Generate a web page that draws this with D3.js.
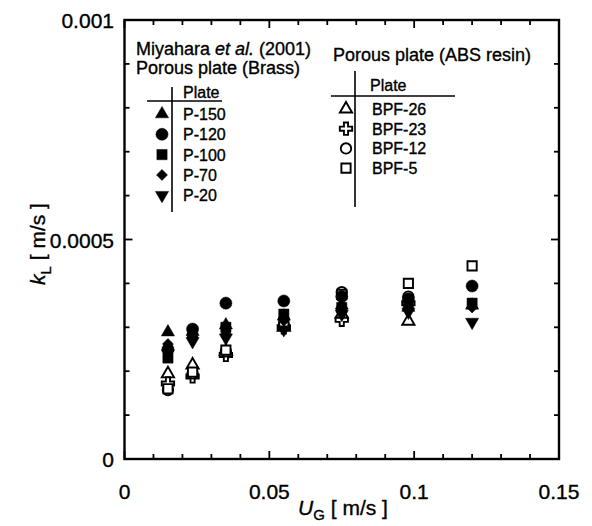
<!DOCTYPE html>
<html>
<head>
<meta charset="utf-8">
<script src="https://cdn.jsdelivr.net/npm/d3@7"></script>
<style>
  body { margin: 0; background: #fff; }
  text { font-family: "Liberation Sans", Arial, sans-serif; fill: #000; stroke: #000; stroke-width: 0.35px; }
</style>
</head>
<body>
<svg id="chart" width="592" height="526"></svg>
<script>
// gas velocity U_G [m/s]
const ug = [0.015, 0.0235, 0.035, 0.055, 0.075, 0.098, 0.12];

// Miyahara et al. (2001), brass plates, k_L [m/s]
const p150 = [0.000289, 0.000290, 0.000305, 0.000325, 0.000350, 0.000345, 0.000350];
const p120 = [0.000250, 0.000296, 0.000355, 0.000360, 0.000370, 0.000365, 0.000394];
const p100 = [0.000230, 0.000285, 0.000300, 0.000330, 0.000345, 0.000350, 0.000355];
const p70  = [0.000262, 0.000278, 0.000285, 0.000315, 0.000340, 0.000340, 0.000345];
const p20  = [0.000240, 0.000268, 0.000276, 0.000295, 0.000330, 0.000335, 0.000312];

// ABS resin plates
const bpf26 = [0.000194, 0.000214, 0.000245, 0.000300, 0.000330, 0.000314, null];
const bpf23 = [0.000172, 0.000188, 0.000237, 0.000300, 0.000317, 0.000355, null];
const bpf12 = [0.000157, 0.000195, 0.000245, 0.000305, 0.000380, 0.000370, null];
const bpf5  = [0.000160, 0.000198, 0.000248, 0.000310, 0.000375, 0.000400, 0.000440];

const xTicks = d3.range(16).map(i => i / 100);
const yTicks = d3.range(11).map(i => i / 10000);
const xLabels = [0, 0.05, 0.1, 0.15];
const yLabels = [0, 0.0005, 0.001];

const svg = d3.select('#chart');
const x = d3.scaleLinear().domain([0, 0.15]).range([124.5, 559]);
const y = d3.scaleLinear().domain([0, 0.001]).range([459, 20]);

// marker shapes
const sym = (type, size) => d3.symbol().type(type).size(size)();
const shapes = {
  up:      {d: sym(d3.symbolTriangle, 75), rot: 0},
  circle:  {d: sym(d3.symbolCircle, 115), rot: 0},
  square:  {d: sym(d3.symbolSquare, 105), rot: 0},
  diamond: {d: sym(d3.symbolSquare, 60), rot: 45},
  down:    {d: sym(d3.symbolTriangle, 75), rot: 180},
  oUp:     {d: sym(d3.symbolTriangle, 65), rot: 0},
  oCross:  {d: sym(d3.symbolCross, 85), rot: 0},
  oCircle: {d: sym(d3.symbolCircle, 85), rot: 0},
  oSquare: {d: sym(d3.symbolSquare, 85), rot: 0}
};

const brass = [
  {name: 'P-150', vals: p150, shape: 'up'},
  {name: 'P-120', vals: p120, shape: 'circle'},
  {name: 'P-100', vals: p100, shape: 'square'},
  {name: 'P-70',  vals: p70,  shape: 'diamond'},
  {name: 'P-20',  vals: p20,  shape: 'down'}
];
const abs = [
  {name: 'BPF-26', vals: bpf26, shape: 'oUp'},
  {name: 'BPF-23', vals: bpf23, shape: 'oCross'},
  {name: 'BPF-12', vals: bpf12, shape: 'oCircle'},
  {name: 'BPF-5',  vals: bpf5,  shape: 'oSquare'}
];

function marker(g, shape, open, cx, cy) {
  const s = shapes[shape];
  g.append('path')
    .attr('d', s.d)
    .attr('transform', `translate(${cx},${cy}) rotate(${s.rot})`)
    .attr('fill', open ? '#fff' : '#000')
    .attr('stroke', '#000')
    .attr('stroke-width', open ? 1.9 : 0.5);
}

// frame + ticks
svg.append('rect')
  .attr('x', x(0)).attr('y', y(0.001))
  .attr('width', x(0.15) - x(0)).attr('height', y(0) - y(0.001))
  .attr('fill', 'none').attr('stroke', '#000').attr('stroke-width', 2.4);

const ticks = svg.append('g').attr('stroke', '#000').attr('stroke-width', 1.8);
xTicks.forEach((v, i) => {
  const len = i % 5 === 0 ? 8 : 5;
  ticks.append('line').attr('x1', x(v)).attr('x2', x(v)).attr('y1', y(0)).attr('y2', y(0) - len);
  ticks.append('line').attr('x1', x(v)).attr('x2', x(v)).attr('y1', y(0.001)).attr('y2', y(0.001) + len);
});
yTicks.forEach((v, i) => {
  const len = i % 5 === 0 ? 8 : 5;
  ticks.append('line').attr('y1', y(v)).attr('y2', y(v)).attr('x1', x(0)).attr('x2', x(0) + len);
  ticks.append('line').attr('y1', y(v)).attr('y2', y(v)).attr('x1', x(0.15)).attr('x2', x(0.15) - len);
});

svg.append('g').selectAll('text').data(xLabels).join('text')
  .attr('x', d => x(d)).attr('y', 499)
  .attr('text-anchor', 'middle').style('font-size', '21px')
  .text(d => d);
svg.append('g').selectAll('text').data(yLabels).join('text')
  .attr('x', 114).attr('y', d => y(d) + 8)
  .attr('text-anchor', 'end').style('font-size', '21px')
  .text(d => d);

// axis titles
const xt = svg.append('text').attr('x', 343).attr('y', 515).attr('text-anchor', 'middle').style('font-size', '21px');
xt.append('tspan').style('font-style', 'italic').text('U');
xt.append('tspan').attr('dy', 5).style('font-size', '15px').text('G');
xt.append('tspan').attr('dy', -5).text('  [ m/s ]');

const yt = svg.append('text').attr('transform', 'translate(45,244) rotate(-90)')
  .attr('text-anchor', 'middle').style('font-size', '21px');
yt.append('tspan').style('font-style', 'italic').text('k');
yt.append('tspan').attr('dy', 6).style('font-size', '15px').text('L');
yt.append('tspan').attr('dy', -6).text('   [ m/s ]');

// data: open markers underneath, filled on top
const pts = svg.append('g');
abs.forEach(s => s.vals.forEach((v, i) => { if (v != null) marker(pts, s.shape, true, x(ug[i]), y(v)); }));
brass.forEach(s => s.vals.forEach((v, i) => { if (v != null) marker(pts, s.shape, false, x(ug[i]), y(v)); }));

// legend 1 - brass
const l1 = svg.append('g');
const t1 = l1.append('text').attr('x', 136).attr('y', 55).style('font-size', '18px');
t1.append('tspan').text('Miyahara ');
t1.append('tspan').style('font-style', 'italic').text('et al.');
t1.append('tspan').text(' (2001)');
l1.append('text').attr('x', 136).attr('y', 74).style('font-size', '18px').text('Porous plate (Brass)');
l1.append('line').attr('x1', 172).attr('x2', 172).attr('y1', 87).attr('y2', 212).attr('stroke', '#000').attr('stroke-width', 1.6);
l1.append('line').attr('x1', 147).attr('x2', 222).attr('y1', 101).attr('y2', 101).attr('stroke', '#000').attr('stroke-width', 1.6);
l1.append('text').attr('x', 183).attr('y', 98).style('font-size', '16px').text('Plate');
brass.forEach((s, i) => {
  const cy = 114 + i * 20.3;
  marker(l1, s.shape, false, 162, cy);
  l1.append('text').attr('x', 183).attr('y', cy + 6).style('font-size', '16px').text(s.name);
});

// legend 2 - ABS resin
const l2 = svg.append('g');
l2.append('text').attr('x', 333).attr('y', 61).style('font-size', '18px').text('Porous plate (ABS resin)');
l2.append('line').attr('x1', 355).attr('x2', 355).attr('y1', 71).attr('y2', 207).attr('stroke', '#000').attr('stroke-width', 1.6);
l2.append('line').attr('x1', 331).attr('x2', 455).attr('y1', 96).attr('y2', 96).attr('stroke', '#000').attr('stroke-width', 1.6);
l2.append('text').attr('x', 370).attr('y', 91).style('font-size', '16px').text('Plate');
abs.forEach((s, i) => {
  const cy = 109 + i * 19.7;
  marker(l2, s.shape, true, 346, cy);
  l2.append('text').attr('x', 372).attr('y', cy + 6).style('font-size', '16px').text(s.name);
});
</script>
</body>
</html>
